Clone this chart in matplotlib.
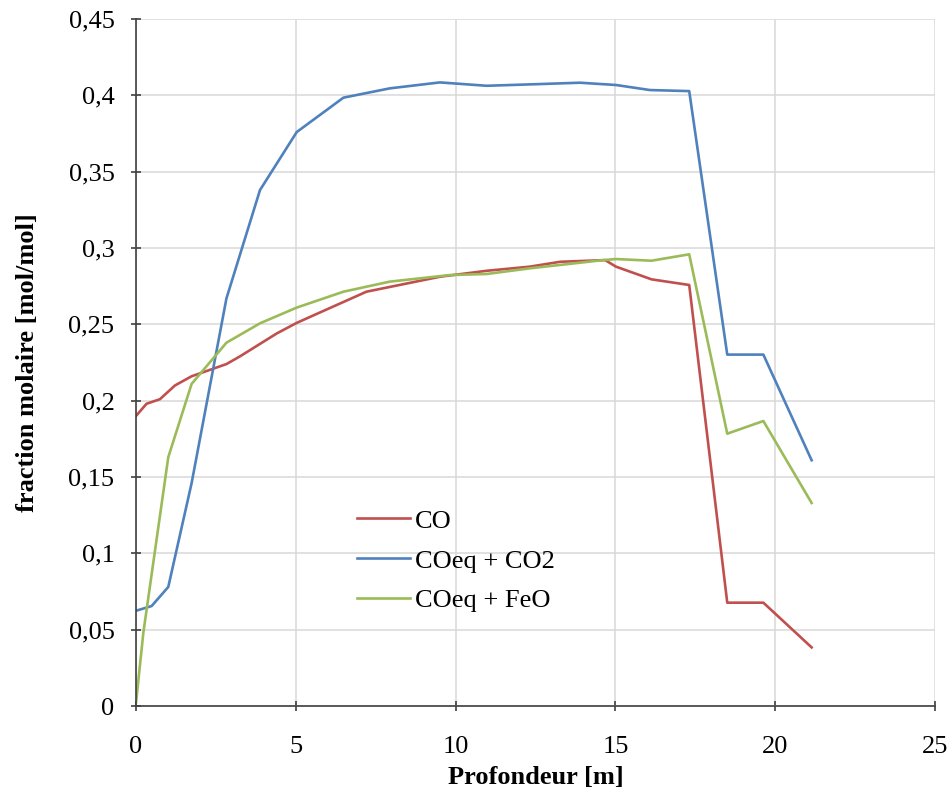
import matplotlib.pyplot as plt
from matplotlib.ticker import FuncFormatter

# profondeur [m] et fractions molaires
x_co = [0, 0.33, 0.75, 1.22, 1.74, 2.83, 3.25, 4.4, 5.03, 7.21, 9.51, 10.97,
        12.32, 13.27, 14.68, 15.02, 16.13, 17.31, 18.5, 19.63, 21.14]
y_co = [0.190, 0.198, 0.201, 0.210, 0.216, 0.224, 0.229, 0.244, 0.251, 0.2714,
        0.2812, 0.2851, 0.2878, 0.291, 0.2921, 0.2878, 0.2795, 0.2758, 0.0677,
        0.0677, 0.0384]

x_co2 = [0, 0.49, 1.01, 1.74, 2.83, 3.88, 5.03, 6.49, 7.94, 9.51, 10.97, 12.32,
         13.89, 15.02, 16.08, 17.31, 18.5, 19.63, 21.14]
y_co2 = [0.0624, 0.0655, 0.078, 0.146, 0.267, 0.338, 0.376, 0.3985, 0.4046,
         0.4085, 0.4063, 0.4072, 0.4083, 0.4068, 0.4035, 0.4028, 0.2302, 0.2302,
         0.161]

x_feo = [0, 0.23, 1.01, 1.74, 2.83, 3.88, 5.03, 6.49, 7.94, 9.82, 10.97, 12.32,
         14.62, 15.02, 16.13, 17.31, 18.5, 19.63, 21.14]
y_feo = [0.002, 0.048, 0.163, 0.211, 0.238, 0.2507, 0.261, 0.2714, 0.278,
         0.2823, 0.283, 0.2867, 0.2921, 0.2928, 0.2917, 0.2959, 0.1784, 0.1867,
         0.133]

labels = ["CO", "COeq + CO2", "COeq + FeO"]
x_ticks = [0, 5, 10, 15, 20, 25]
y_ticks = [0, 0.05, 0.1, 0.15, 0.2, 0.25, 0.3, 0.35, 0.4, 0.45]

plt.rcParams['font.family'] = ['Liberation Serif', 'DejaVu Serif']
fs = 19

fig = plt.figure(figsize=(9.53, 7.94), dpi=100)
ax = fig.add_axes([0.1427, 0.1108, 0.8384, 0.8652])

lw = 1.9
ax.plot(x_co, y_co, color='#C0504D', lw=lw, label=labels[0])
ax.plot(x_co2, y_co2, color='#4F81BD', lw=lw, label=labels[1])
ax.plot(x_feo, y_feo, color='#9BBB59', lw=lw, label=labels[2])

ax.set_xlim(0, 25)
ax.set_ylim(0, 0.45)
ax.set_xticks(x_ticks)
ax.set_yticks(y_ticks)
ax.yaxis.set_major_formatter(FuncFormatter(lambda v, p: ('%g' % v).replace('.', ',')))

ax.grid(True, color='#d9d9d9', lw=1.1)
ax.set_axisbelow(True)
for s in ['top', 'right']:
    ax.spines[s].set_visible(False)
for s in ['left', 'bottom']:
    ax.spines[s].set_color('#404040')
    ax.spines[s].set_linewidth(1.2)
ax.tick_params(direction='inout', length=7, width=1.2, color='#404040',
               labelsize=fs, pad=12)
ax.tick_params(axis='x', pad=18)

ax.set_xlabel("Profondeur [m]", fontsize=fs, fontweight='bold', labelpad=6)
ax.set_ylabel("fraction molaire [mol/mol]", fontsize=fs, fontweight='bold', labelpad=21)

ax.legend(loc='upper left', bbox_to_anchor=(0.247, 0.321), frameon=False,
          fontsize=fs, handlelength=2.0, handletextpad=0.2, labelspacing=0.62)

fig.savefig("out.png", dpi=100)
